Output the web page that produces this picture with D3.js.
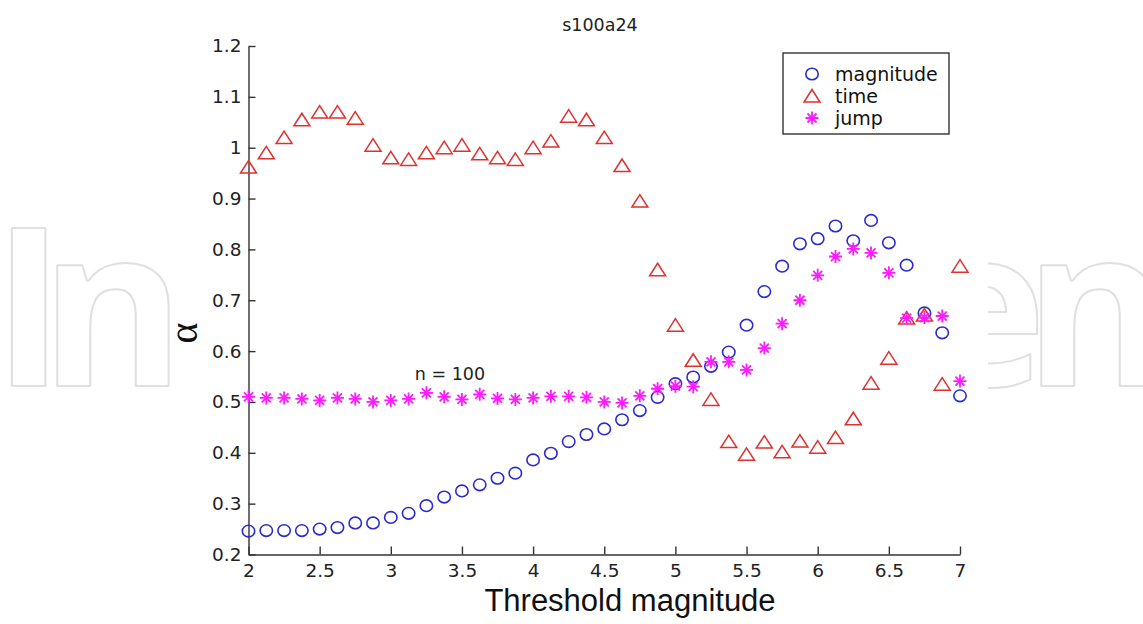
<!DOCTYPE html>
<html>
<head>
<meta charset="utf-8">
<script src="https://cdn.jsdelivr.net/npm/d3@7"></script>
<style>
  body { margin: 0; background: #fff; }
  svg { display: block; }
</style>
</head>
<body>
<div id="chart"></div>
<script>
// threshold magnitude (x) and the three alpha series
const thresholds = [2, 2.125, 2.25, 2.375, 2.5, 2.625, 2.75, 2.875, 3, 3.125, 3.25, 3.375, 3.5, 3.625, 3.75, 3.875,
    4, 4.125, 4.25, 4.375, 4.5, 4.625, 4.75, 4.875, 5, 5.125, 5.25, 5.375, 5.5, 5.625, 5.75, 5.875,
    6, 6.125, 6.25, 6.375, 6.5, 6.625, 6.75, 6.875, 7];
const magnitudeAlpha = [0.246, 0.247, 0.247, 0.247, 0.250, 0.253, 0.262, 0.262, 0.273, 0.281, 0.296, 0.313, 0.325, 0.337, 0.350, 0.360,
    0.386, 0.399, 0.422, 0.436, 0.447, 0.465, 0.483, 0.509, 0.536, 0.549, 0.570, 0.598, 0.651, 0.717, 0.767, 0.811,
    0.821, 0.846, 0.817, 0.857, 0.813, 0.769, 0.675, 0.636, 0.512];
const timeAlpha = [0.962, 0.990, 1.020, 1.055, 1.070, 1.070, 1.058, 1.005, 0.980, 0.977, 0.990, 1.000, 1.005, 0.988, 0.980, 0.977,
    1.000, 1.013, 1.062, 1.055, 1.020, 0.965, 0.895, 0.760, 0.651, 0.582, 0.505, 0.422, 0.397, 0.421, 0.402, 0.423,
    0.411, 0.430, 0.467, 0.537, 0.586, 0.665, 0.671, 0.535, 0.767];
const jumpAlpha = [0.510, 0.508, 0.508, 0.506, 0.503, 0.508, 0.506, 0.500, 0.503, 0.506, 0.518, 0.510, 0.505, 0.515, 0.507, 0.505,
    0.508, 0.511, 0.511, 0.509, 0.500, 0.498, 0.512, 0.526, 0.531, 0.530, 0.579, 0.579, 0.563, 0.606, 0.654, 0.700,
    0.749, 0.786, 0.801, 0.793, 0.754, 0.665, 0.666, 0.669, 0.541];

const xTicks = [2, 2.5, 3, 3.5, 4, 4.5, 5, 5.5, 6, 6.5, 7];
const xTickLabels = ["2", "2.5", "3", "3.5", "4", "4.5", "5", "5.5", "6", "6.5", "7"];
const yTicks = [0.2, 0.3, 0.4, 0.5, 0.6, 0.7, 0.8, 0.9, 1.0, 1.1, 1.2];
const yTickLabels = ["0.2", "0.3", "0.4", "0.5", "0.6", "0.7", "0.8", "0.9", "1", "1.1", "1.2"];
const seriesNames = ["magnitude", "time", "jump"];

const width = 1143, height = 624;
const plot = { left: 248.5, right: 960, top: 46, bottom: 554.5 };

const svg = d3.select("#chart").append("svg")
    .attr("width", width)
    .attr("height", height);

// watermark behind the figure, only the outer letters show
const wm = svg.append("g")
    .attr("font-family", "'Open Sans', sans-serif")
    .attr("font-weight", 700)
    .attr("font-size", 221)
    .attr("fill", "#fff")
    .attr("stroke", "#e0e0e0")
    .attr("stroke-width", 2)
    .attr("stroke-linejoin", "round");
wm.append("text").attr("x", "-8 40").attr("y", 386).text("In");
wm.append("text").attr("x", "916 1024").attr("y", 386).text("en");

svg.append("rect")
    .attr("x", 172).attr("y", 0)
    .attr("width", 988 - 172).attr("height", height)
    .attr("fill", "#fff");

const x = d3.scaleLinear().domain([2, 7]).range([plot.left, plot.right]);
const y = d3.scaleLinear().domain([0.2, 1.2]).range([plot.bottom, plot.top]);

const tickFont = "'DejaVu Sans', sans-serif";

const xAxis = svg.append("g")
    .attr("transform", `translate(0,${plot.bottom})`)
    .call(d3.axisBottom(x).tickValues(xTicks)
        .tickFormat((d, i) => xTickLabels[i])
        .tickSizeInner(-8).tickSizeOuter(0).tickPadding(9));

const yAxis = svg.append("g")
    .attr("transform", `translate(${plot.left},0)`)
    .call(d3.axisLeft(y).tickValues(yTicks)
        .tickFormat((d, i) => yTickLabels[i])
        .tickSizeInner(-7).tickSizeOuter(0).tickPadding(7));

[xAxis, yAxis].forEach(g => {
    g.select(".domain").attr("stroke", "#333").attr("stroke-width", 1.4);
    g.selectAll(".tick line").attr("stroke", "#333").attr("stroke-width", 1.4);
    g.selectAll(".tick text")
        .attr("font-family", tickFont)
        .attr("font-size", 18.5)
        .attr("fill", "#222");
});

// title and labels
svg.append("text")
    .attr("x", 600).attr("y", 31)
    .attr("text-anchor", "middle")
    .attr("font-family", tickFont)
    .attr("font-size", 17.5)
    .attr("fill", "#222")
    .text("s100a24");

svg.append("text")
    .attr("x", 630).attr("y", 611)
    .attr("text-anchor", "middle")
    .attr("font-family", "'Liberation Sans', Arial, sans-serif")
    .attr("font-size", 31)
    .attr("fill", "#111")
    .text("Threshold magnitude");

svg.append("text")
    .attr("transform", "translate(197,333) rotate(-90)")
    .attr("text-anchor", "middle")
    .attr("font-family", "'Liberation Serif', serif")
    .attr("font-size", 40)
    .attr("fill", "#111")
    .text("α");

svg.append("text")
    .attr("x", 450).attr("y", 380)
    .attr("text-anchor", "middle")
    .attr("font-family", tickFont)
    .attr("font-size", 17.5)
    .attr("fill", "#222")
    .text("n = 100");

// marker shapes
const triPath = "M0,-6.5L8,6L-8,6Z";
const starPath = "M-6.5,0H6.5M0,-6.5V6.5M-4.5,-4.5L4.5,4.5M-4.5,4.5L4.5,-4.5";

const colors = { magnitude: "#2a2ad0", time: "#e03030", jump: "#ff1aff" };

function drawMarker(sel, name) {
    if (name === "magnitude") {
        sel.append("ellipse").attr("rx", 6.2).attr("ry", 5.8)
            .attr("fill", "none").attr("stroke", colors.magnitude).attr("stroke-width", 1.6);
    } else if (name === "time") {
        sel.append("path").attr("d", triPath)
            .attr("fill", "none").attr("stroke", colors.time).attr("stroke-width", 1.5);
    } else {
        sel.append("path").attr("d", starPath)
            .attr("fill", "none").attr("stroke", colors.jump).attr("stroke-width", 1.8);
    }
}

const seriesValues = [magnitudeAlpha, timeAlpha, jumpAlpha];
seriesNames.forEach((name, si) => {
    svg.append("g").attr("class", "series-" + name)
        .selectAll("g")
        .data(thresholds.map((t, i) => [t, seriesValues[si][i]]))
        .join("g")
        .attr("transform", d => `translate(${x(d[0])},${y(d[1])})`)
        .each(function () { drawMarker(d3.select(this), name); });
});

// legend
const legend = svg.append("g");
legend.append("rect")
    .attr("x", 783).attr("y", 53)
    .attr("width", 166).attr("height", 81)
    .attr("fill", "#fff")
    .attr("stroke", "#333").attr("stroke-width", 1.4);
seriesNames.forEach((name, i) => {
    const row = legend.append("g").attr("transform", `translate(812,${74 + i * 22})`);
    drawMarker(row, name);
    row.append("text")
        .attr("x", 23).attr("y", 7)
        .attr("font-family", tickFont)
        .attr("font-size", 19)
        .attr("fill", "#111")
        .text(name);
});
</script>
</body>
</html>
